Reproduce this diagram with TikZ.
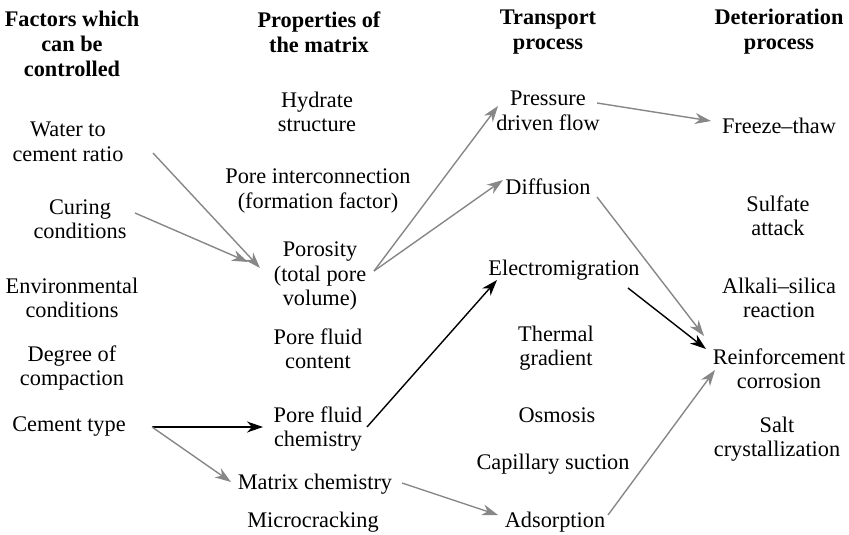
\documentclass[tikz,border=0pt]{standalone}
\usepackage{fontspec}
\setmainfont{Liberation Serif}
\usetikzlibrary{arrows.meta}

\begin{document}
\begin{tikzpicture}[x=1bp, y=-1bp,
  lbl/.style={align=center, inner sep=0pt, font=\fontsize{22.3bp}{24.5bp}\selectfont},
  head/.style={lbl, font=\fontsize{22.3bp}{25bp}\selectfont\bfseries},
  link/.style={line width=1.4bp, -{Stealth[length=16bp, width=11bp, inset=5bp]}},
  grey link/.style={link, draw=black!47},
  dark link/.style={link, draw=black}
]
\useasboundingbox (0,0) rectangle (849,535);

% column headings
\node[head] (h1) at (72,44) {Factors which\\can be\\controlled};
\node[head] (h2) at (319,32) {Properties of\\the matrix};
\node[head] (h3) at (548,32) {Transport\\process};
\node[head] (h4) at (779,32) {Deterioration\\process};

% controllable factors
\node[lbl] (water)  at (68,142)  {Water to\\cement ratio};
\node[lbl] (curing) at (80,219)  {Curing\\conditions};
\node[lbl] (env)    at (72,298)  {Environmental\\conditions};
\node[lbl] (degree) at (72,368)  {Degree of\\compaction};
\node[lbl] (cement) at (69,427)  {Cement type};

% matrix properties
\node[lbl] (hydrate)   at (317,112) {Hydrate\\structure};
\node[lbl] (poreint)   at (318,191) {Pore interconnection\\(formation factor)};
\node[lbl] (porosity)  at (320,276) {Porosity\\(total pore\\volume)};
\node[lbl] (pfcontent) at (318,349) {Pore fluid\\content};
\node[lbl] (pfchem)    at (318,429) {Pore fluid\\chemistry};
\node[lbl] (matchem)   at (315,484) {Matrix chemistry};
\node[lbl] (micro)     at (313,522) {Microcracking};

% transport processes
\node[lbl] (pressure)   at (548,111) {Pressure\\driven flow};
\node[lbl] (diffusion)  at (548,187) {Diffusion};
\node[lbl] (electro)    at (564,270) {Electromigration};
\node[lbl] (thermal)    at (556,348) {Thermal\\gradient};
\node[lbl] (osmosis)    at (557,415) {Osmosis};
\node[lbl] (capillary)  at (553,464) {Capillary suction};
\node[lbl] (adsorption) at (555,522) {Adsorption};

% deterioration processes
\node[lbl] (freeze)  at (779,126) {Freeze--thaw};
\node[lbl] (sulfate) at (778,216) {Sulfate\\attack};
\node[lbl] (alkali)  at (779,298) {Alkali--silica\\reaction};
\node[lbl] (reinf)   at (779,369) {Reinforcement\\corrosion};
\node[lbl] (salt)    at (777,439) {Salt\\crystallization};

% links
\draw[grey link] ([shift={(85,11)}]water.center)   -- ([shift={(-60,-8)}]porosity.center);
\draw[grey link] ([shift={(55,-6)}]curing.center)  -- ([shift={(-72,-14)}]porosity.center);
\draw[grey link] ([shift={(54,-5)}]porosity.center) -- ([shift={(-50,-5)}]pressure.center);
\draw[grey link] ([shift={(54,-5)}]porosity.center) -- ([shift={(-45,-7)}]diffusion.center);
\draw[grey link] ([shift={(49,-8)}]pressure.center) -- ([shift={(-68,-5)}]freeze.center);
\draw[grey link] ([shift={(49,10)}]diffusion.center) -- ([shift={(-75,-33)}]reinf.center);
\draw[dark link] ([shift={(64,18)}]electro.center) -- ([shift={(-73,-20)}]reinf.center);
\draw[grey link] ([shift={(53,-7)}]adsorption.center) -- ([shift={(-64,1)}]reinf.center);
\draw[dark link] ([shift={(83,0)}]cement.center)  -- ([shift={(-55,-2)}]pfchem.center);
\draw[grey link] ([shift={(83,0)}]cement.center)  -- ([shift={(-84,-2)}]matchem.center);
\draw[dark link] ([shift={(49,-2)}]pfchem.center) -- ([shift={(-67,10)}]electro.center);
\draw[grey link] ([shift={(87,-1)}]matchem.center) -- ([shift={(-57,-7)}]adsorption.center);
\end{tikzpicture}
\end{document}
